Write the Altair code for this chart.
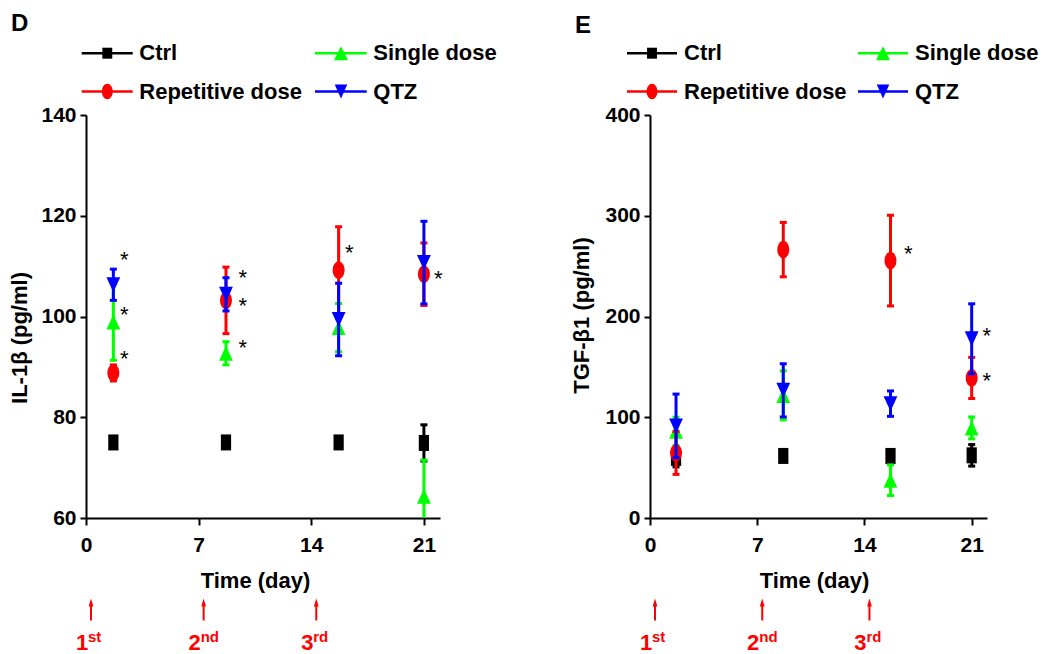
import math
import altair as alt
import pandas as pd

# ---------------- data ----------------
series = ["Ctrl", "Single dose", "Repetitive dose", "QTZ"]
series_colors = ["#000000", "#00FF00", "#FF0000", "#0000FF"]
days = [1.7, 8.7, 15.7, 21.0]
x_ticks = [0, 7, 14, 21]

il_ctrl_mean = [75.0, 75.0, 75.0, 74.9]
il_ctrl_sem = [0.6, 0.6, 0.6, 3.6]
il_single_mean = [98.9, 92.7, 97.8, 64.3]
il_single_sem = [7.6, 2.3, 4.8, 7.2]
il_rep_mean = [88.8, 103.2, 109.2, 108.4]
il_rep_sem = [1.6, 6.6, 8.6, 6.2]
il_qtz_mean = [106.3, 104.4, 99.4, 110.7]
il_qtz_sem = [3.1, 3.3, 7.2, 8.2]
il_y_ticks = [60, 80, 100, 120, 140]
il_star_day = [2.38, 2.38, 2.38, 9.74, 9.74, 9.74, 16.36, 21.9]
il_star_val = [112.3, 101.2, 92.5, 108.6, 103.0, 94.7, 113.6, 108.4]

tgf_ctrl_mean = [59.7, 61.6, 61.6, 62.2]
tgf_ctrl_sem = [9.0, 1.0, 1.0, 10.7]
tgf_single_mean = [86.0, 121.7, 37.5, 89.4]
tgf_single_sem = [14.0, 24.3, 15.2, 10.9]
tgf_rep_mean = [64.6, 266.4, 255.5, 139.0]
tgf_rep_sem = [21.3, 27.0, 45.0, 20.4]
tgf_qtz_mean = [91.4, 126.7, 113.5, 177.9]
tgf_qtz_sem = [31.6, 26.4, 12.6, 34.7]
tgf_y_ticks = [0, 100, 200, 300, 400]
tgf_star_day = [16.86, 21.98, 21.98]
tgf_star_val = [267.1, 186.1, 140.9]

dose_days = [0, 7, 14]
dose_num = ["1", "2", "3"]
dose_suffix = ["st", "nd", "rd"]

# ---------------- styles ----------------
FONT = "Liberation Sans"


def ellipse_path(rx, n=32):
    pts = [(rx * math.sin(2 * math.pi * i / n), -math.cos(2 * math.pi * i / n)) for i in range(n)]
    return "M" + "L".join(f"{x:.3f},{y:.3f}" for x, y in pts) + "Z"


SHAPES = {
    "Ctrl": "M-0.64,-1L0.64,-1L0.64,1L-0.64,1Z",
    "Single dose": "M0,-1L0.92,1L-0.92,1Z",
    "Repetitive dose": ellipse_path(0.68),
    "QTZ": "M-0.92,-1L0.92,-1L0,1Z",
}
SIZES = {"Ctrl": 16 ** 2, "Single dose": 15 ** 2, "Repetitive dose": 17.5 ** 2, "QTZ": 15 ** 2}
LEG_SHAPES = {
    "Ctrl": "M-0.9,-1L0.9,-1L0.9,1L-0.9,1Z",
    "Single dose": "M0,-1L1,1L-1,1Z",
    "Repetitive dose": ellipse_path(0.7),
    "QTZ": "M-0.9,-1L0.9,-1L0,1Z",
}
LEG_SIZES = {"Ctrl": 11 ** 2, "Single dose": 14 ** 2, "Repetitive dose": 15.5 ** 2, "QTZ": 14 ** 2}

PLOT_H = 403


def panel(means, sems, y_title, y_domain, y_ticks, star_day, star_val, width,
          label, label_y, ytitle_x, ytitle_y, xtitle_x, leg, bound_x):
    rows = []
    for s, m_list, e_list in zip(series, means, sems):
        for d, m, e in zip(days, m_list, e_list):
            rows.append({"series": s, "day": d, "mean": m, "lo": m - e, "hi": m + e})
    df = pd.DataFrame(rows)

    xscale = alt.Scale(domain=[0, 22], nice=False, zero=False)
    yscale = alt.Scale(domain=y_domain, nice=False, zero=False)
    xaxis = alt.Axis(values=x_ticks, title="Time (day)", titleX=xtitle_x, titleY=62.5,
                     titleAlign="center", titleBaseline="middle", tickSize=7, labelPadding=9,
                     labelFlush=False)
    yaxis = alt.Axis(values=y_ticks, title=y_title, titleX=ytitle_x, titleY=ytitle_y,
                     titleAngle=270, titleAlign="center", titleBaseline="middle",
                     tickSize=6, labelPadding=4)

    def X(f):
        return alt.X(f"{f}:Q", scale=xscale, axis=xaxis)

    def Y(f):
        return alt.Y(f"{f}:Q", scale=yscale, axis=yaxis)

    layers = []
    for s, c in zip(series, series_colors):
        d = df[df.series == s]
        base = alt.Chart(d)
        layers.append(base.mark_rule(color=c, strokeWidth=3, clip=True)
                      .encode(x=X("day"), y=Y("lo"), y2="hi:Q"))
        layers.append(base.mark_tick(color=c, orient="horizontal", size=7, thickness=3, opacity=1,
                                     clip=True)
                      .encode(x=X("day"), y=Y("hi")))
        layers.append(base.mark_tick(color=c, orient="horizontal", size=7, thickness=3, opacity=1,
                                     clip=True)
                      .encode(x=X("day"), y=Y("lo")))
        layers.append(base.mark_point(shape=SHAPES[s], filled=True, size=SIZES[s], color=c,
                                      opacity=1, strokeWidth=0)
                      .encode(x=X("day"), y=Y("mean")))

    # significance asterisks
    star_df = pd.DataFrame({"day": star_day, "val": star_val})
    layers.append(alt.Chart(star_df).mark_text(text="*", fontSize=22, color="black", dy=12,
                                               baseline="alphabetic", align="center", font=FONT)
                  .encode(x=X("day"), y=Y("val")))

    # dosing arrows
    dose_df = pd.DataFrame({"day": dose_days, "num": dose_num, "suf": dose_suffix})
    dbase = alt.Chart(dose_df)
    layers.append(dbase.mark_rule(color="#FF0000", strokeWidth=2, xOffset=5)
                  .encode(x=X("day"), y=alt.value(489), y2=alt.value(505.5)))
    layers.append(dbase.mark_point(shape="M0,-1L0.6,1L-0.6,1Z", filled=True, size=64,
                                   color="#FF0000", opacity=1, strokeWidth=0, xOffset=5)
                  .encode(x=X("day"), y=alt.value(487.5)))
    layers.append(dbase.mark_text(color="#FF0000", fontSize=22, fontWeight="bold", font=FONT,
                                  align="center", baseline="alphabetic", dx=-4)
                  .encode(x=X("day"), y=alt.value(534.5), text="num:N"))
    layers.append(dbase.mark_text(color="#FF0000", fontSize=15, fontWeight="bold", font=FONT,
                                  align="left", baseline="alphabetic", dx=2)
                  .encode(x=X("day"), y=alt.value(527), text="suf:N"))

    # legend (two columns, two rows)
    one = pd.DataFrame({"a": [0]})
    for i, (s, c) in enumerate(zip(series, series_colors)):
        col, row = i % 2, i // 2
        x0, x1, xm, xt = leg["line0"][col], leg["line1"][col], leg["mark"][col], leg["text"][col]
        yy = leg["rows"][row]
        lb = alt.Chart(one)
        layers.append(lb.mark_rule(color=c, strokeWidth=2.5)
                      .encode(x=alt.value(x0), x2=alt.value(x1), y=alt.value(yy)))
        layers.append(lb.mark_point(shape=LEG_SHAPES[s], filled=True, size=LEG_SIZES[s], color=c,
                                    opacity=1, strokeWidth=0)
                      .encode(x=alt.value(xm), y=alt.value(yy)))
        layers.append(lb.mark_text(text=s, align="left", baseline="middle", fontSize=22,
                                   fontWeight="bold", font=FONT, color="black")
                      .encode(x=alt.value(xt), y=alt.value(yy)))

    # panel label
    layers.append(alt.Chart(one).mark_text(text=label, align="left", baseline="top", fontSize=24,
                                           fontWeight="bold", font=FONT, color="black")
                  .encode(x=alt.value(-75), y=alt.value(label_y)))
    # invisible extent markers (layout)
    layers.append(alt.Chart(one).mark_rule(opacity=0)
                  .encode(x=alt.value(bound_x), y=alt.value(0), y2=alt.value(5)))
    layers.append(alt.Chart(one).mark_rule(opacity=0)
                  .encode(x=alt.value(0), y=alt.value(-106.5), y2=alt.value(-100)))

    return alt.layer(*layers).properties(width=width, height=PLOT_H)


leg_d = {"line0": [-4.3, 229], "line1": [46.7, 280.7], "mark": [21.3, 255],
         "text": [53.3, 287.3], "rows": [-61.8, -23.5]}
leg_e = {"line0": [-23, 208], "line1": [27, 258], "mark": [2, 233],
         "text": [34, 265], "rows": [-61.8, -23.5]}

panel_d = panel([il_ctrl_mean, il_single_mean, il_rep_mean, il_qtz_mean],
                [il_ctrl_sem, il_single_sem, il_rep_sem, il_qtz_sem],
                "IL-1β (pg/ml)", [60, 140], il_y_ticks, il_star_day, il_star_val, 354,
                "D", -103.5, -67, 222.5, 169, leg_d, 430)
panel_e = panel([tgf_ctrl_mean, tgf_single_mean, tgf_rep_mean, tgf_qtz_mean],
                [tgf_ctrl_sem, tgf_single_sem, tgf_rep_sem, tgf_qtz_sem],
                "TGF-β1 (pg/ml)", [0, 400], tgf_y_ticks, tgf_star_day, tgf_star_val, 337,
                "E", -101.5, -69, 200, 164, leg_e, -85)

chart = alt.hconcat(panel_d, panel_e, spacing=49).properties(
    padding={"left": 0, "top": 0, "right": 0, "bottom": 0}
).configure_view(stroke=None).configure_axis(
    grid=False, domainColor="black", domainWidth=2, tickColor="black", tickWidth=2,
    labelFont=FONT, labelFontSize=21, labelFontWeight="bold", labelColor="black",
    titleFont=FONT, titleFontSize=22, titleFontWeight="bold", titleColor="black",
).configure_text(font=FONT)

chart.save("out.html", embed_options={"renderer": "svg", "actions": False})
